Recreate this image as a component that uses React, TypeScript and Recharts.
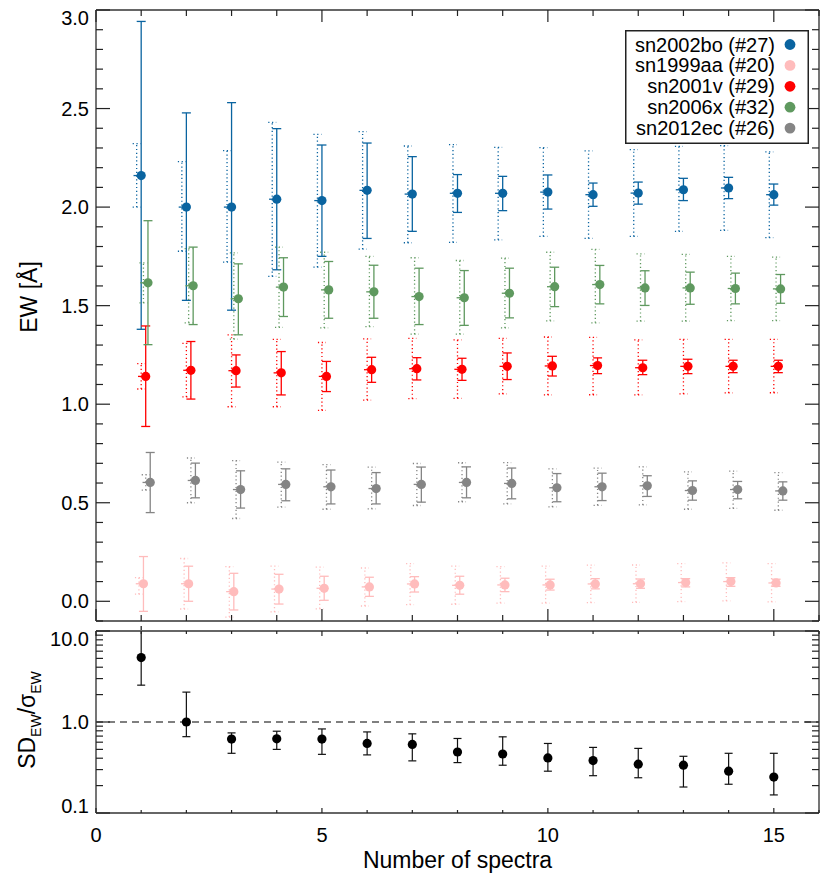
import { ScatterChart, Scatter, XAxis, YAxis, ErrorBar, ReferenceLine, Legend, Label } from 'recharts'

// number of spectra used (x categories)
const spectra = [1, 2, 3, 4, 5, 6, 7, 8, 9, 10, 11, 12, 13, 14, 15]

const snNames = ['sn2002bo (#27)', 'sn1999aa (#20)', 'sn2001v (#29)', 'sn2006x (#32)', 'sn2012ec (#26)']

// sn2002bo
const boEw = [2.16, 2.0, 2.0, 2.04, 2.033, 2.085, 2.066, 2.07, 2.07, 2.076, 2.063, 2.071, 2.088, 2.097, 2.063]
const boLo = [1.38, 1.527, 1.477, 1.682, 1.75, 1.841, 1.877, 1.973, 1.982, 1.99, 2.004, 2.015, 2.033, 2.043, 2.01]
const boHi = [2.942, 2.478, 2.53, 2.398, 2.315, 2.325, 2.256, 2.165, 2.156, 2.163, 2.122, 2.127, 2.146, 2.151, 2.117]
const boSdLo = [2.0, 1.776, 1.721, 1.648, 1.695, 1.787, 1.819, 1.821, 1.834, 1.851, 1.841, 1.851, 1.877, 1.882, 1.845]
const boSdHi = [2.322, 2.231, 2.287, 2.43, 2.369, 2.383, 2.31, 2.317, 2.303, 2.302, 2.285, 2.292, 2.308, 2.312, 2.28]

// sn1999aa
const aaEw = [0.089, 0.089, 0.049, 0.062, 0.066, 0.073, 0.088, 0.081, 0.083, 0.083, 0.088, 0.089, 0.095, 0.1, 0.093]
const aaLo = [-0.051, 0.0, -0.044, -0.014, 0.005, 0.025, 0.047, 0.036, 0.049, 0.057, 0.063, 0.066, 0.073, 0.076, 0.076]
const aaHi = [0.227, 0.178, 0.142, 0.137, 0.127, 0.122, 0.125, 0.127, 0.117, 0.112, 0.115, 0.113, 0.115, 0.12, 0.112]
const aaSdLo = [0.036, -0.039, -0.08, -0.054, -0.038, -0.024, -0.017, -0.015, -0.009, -0.009, -0.007, -0.005, -0.002, 0.002, -0.003]
const aaSdHi = [0.12, 0.217, 0.176, 0.178, 0.173, 0.169, 0.191, 0.178, 0.176, 0.178, 0.183, 0.184, 0.191, 0.195, 0.191]

// sn2001v
const vEw = [1.141, 1.172, 1.17, 1.159, 1.141, 1.175, 1.18, 1.177, 1.192, 1.194, 1.196, 1.185, 1.192, 1.192, 1.192]
const vLo = [0.887, 1.026, 1.087, 1.047, 1.064, 1.111, 1.123, 1.121, 1.125, 1.143, 1.155, 1.15, 1.155, 1.16, 1.16]
const vHi = [1.397, 1.318, 1.25, 1.267, 1.217, 1.238, 1.236, 1.233, 1.26, 1.243, 1.235, 1.223, 1.228, 1.223, 1.223]
const vSdLo = [1.077, 1.037, 0.987, 0.987, 0.969, 1.021, 1.028, 1.03, 1.052, 1.047, 1.048, 1.047, 1.052, 1.057, 1.058]
const vSdHi = [1.206, 1.309, 1.352, 1.329, 1.313, 1.331, 1.334, 1.326, 1.334, 1.341, 1.339, 1.326, 1.329, 1.329, 1.329]

// sn2006x
const xEw = [1.616, 1.601, 1.535, 1.594, 1.58, 1.57, 1.546, 1.54, 1.563, 1.596, 1.607, 1.59, 1.59, 1.587, 1.585]
const xLo = [1.302, 1.404, 1.352, 1.445, 1.436, 1.436, 1.404, 1.4, 1.438, 1.495, 1.509, 1.501, 1.507, 1.509, 1.512]
const xHi = [1.931, 1.797, 1.712, 1.743, 1.724, 1.705, 1.69, 1.678, 1.69, 1.695, 1.704, 1.677, 1.67, 1.665, 1.658]
const xSdLo = [1.514, 1.413, 1.33, 1.39, 1.387, 1.394, 1.355, 1.355, 1.387, 1.423, 1.413, 1.421, 1.421, 1.424, 1.424]
const xSdHi = [1.717, 1.789, 1.768, 1.797, 1.771, 1.75, 1.743, 1.729, 1.741, 1.771, 1.785, 1.763, 1.76, 1.75, 1.746]

// sn2012ec
const ecEw = [0.603, 0.613, 0.567, 0.593, 0.581, 0.572, 0.593, 0.603, 0.598, 0.576, 0.581, 0.586, 0.562, 0.567, 0.56]
const ecLo = [0.45, 0.525, 0.473, 0.51, 0.494, 0.494, 0.503, 0.525, 0.52, 0.505, 0.511, 0.532, 0.513, 0.52, 0.513]
const ecHi = [0.755, 0.701, 0.662, 0.672, 0.666, 0.653, 0.681, 0.682, 0.676, 0.648, 0.65, 0.637, 0.611, 0.608, 0.606]
const ecSdLo = [0.564, 0.5, 0.42, 0.478, 0.467, 0.469, 0.486, 0.505, 0.494, 0.479, 0.487, 0.489, 0.467, 0.471, 0.462]
const ecSdHi = [0.642, 0.727, 0.714, 0.706, 0.693, 0.681, 0.699, 0.703, 0.704, 0.672, 0.676, 0.682, 0.657, 0.66, 0.653]

// lower panel: SD_EW / sigma_EW
const ratio = [5.1, 1.0, 0.649, 0.653, 0.649, 0.581, 0.567, 0.468, 0.445, 0.403, 0.377, 0.344, 0.335, 0.288, 0.248]
const ratioLo = [2.54, 0.69, 0.453, 0.5, 0.441, 0.435, 0.374, 0.358, 0.335, 0.288, 0.257, 0.244, 0.193, 0.207, 0.158]
const ratioHi = [12, 2.13, 0.759, 0.792, 0.839, 0.778, 0.741, 0.659, 0.687, 0.581, 0.526, 0.513, 0.42, 0.453, 0.453]

// axis ticks
const xMajor = [0, 5, 10, 15]
const xMinor = [0, 1, 2, 3, 4, 5, 6, 7, 8, 9, 10, 11, 12, 13, 14, 15, 16]
const ewMajor = [0, 0.5, 1.0, 1.5, 2.0, 2.5, 3.0]
const ewMinor = Array.from({ length: 32 }, (_, i) => (i - 1) / 10)
const ratioMajor = [0.1, 1, 10]
const ratioMinor = [0.1, 0.2, 0.3, 0.4, 0.5, 0.6, 0.7, 0.8, 0.9, 1, 2, 3, 4, 5, 6, 7, 8, 9, 10]

const FONT = '"Liberation Sans", Arial, Helvetica, sans-serif'
const FRAME = '#666'
const TICK = '#222'

const styles = [
  { color: '#0a64a0', off: 0 },
  { color: '#ffbcbc', off: 0.05 },
  { color: '#ff0000', off: 0.1 },
  { color: '#5f995f', off: 0.15 },
  { color: '#858585', off: 0.2 },
]

const seriesData = [
  [boEw, boLo, boHi, boSdLo, boSdHi],
  [aaEw, aaLo, aaHi, aaSdLo, aaSdHi],
  [vEw, vLo, vHi, vSdLo, vSdHi],
  [xEw, xLo, xHi, xSdLo, xSdHi],
  [ecEw, ecLo, ecHi, ecSdLo, ecSdHi],
]

const points = (ew: number[], lo: number[], hi: number[], off: number) =>
  spectra.map((n, i) => ({ x: n + off, y: ew[i], ey: [ew[i] - lo[i], hi[i] - ew[i]], ex: [0.17, 0] }))

const ratioPoints = spectra.map((n, i) => ({
  x: n,
  y: ratio[i],
  ey: [ratio[i] - ratioLo[i], ratioHi[i] - ratio[i]],
}))

type Side = 'left' | 'right' | 'top' | 'bottom'

const makeTick = (side: Side, major: number[], majorLen: number, minorLen: number, labelled = false, clamp?: [number, number]) =>
  (props: any) => {
    const { x, y, payload } = props
    const v = payload.value
    const isMajor = major.some(m => Math.abs(m - v) < 1e-6)
    const len = isMajor ? majorLen : minorLen
    let x2 = x
    let y2 = y
    if (side === 'left') x2 = x + len
    if (side === 'right') x2 = x - len
    if (side === 'top') y2 = y + len
    if (side === 'bottom') y2 = y - len
    let label = null
    if (labelled && isMajor) {
      if (side === 'left') {
        const ty = clamp ? Math.min(Math.max(y, clamp[0]), clamp[1]) : y
        label = (
          <text x={x - 7} y={ty} textAnchor="end" dominantBaseline="central" fontSize={20} fontFamily={FONT} fill="#000">
            {v.toFixed(1)}
          </text>
        )
      } else if (side === 'bottom') {
        label = (
          <text x={x} y={y + 29} textAnchor="middle" fontSize={20} fontFamily={FONT} fill="#000">
            {v}
          </text>
        )
      }
    }
    return (
      <g>
        <line x1={x} y1={y} x2={x2} y2={y2} stroke={TICK} strokeWidth={1.2} />
        {label}
      </g>
    )
  }

const noDot = () => <g />

const ewDot = (color: string) => (p: any) => <circle cx={p.cx} cy={p.cy} r={4.6} fill={color} />

const ewLabel = () => (
  <text transform="rotate(-90, 37, 297)" x={37} y={297} textAnchor="middle" fontSize={23} fontFamily={FONT} fill="#000">
    EW [Å]
  </text>
)

const ratioLabel = () => (
  <text transform="rotate(-90, 35, 94)" x={35} y={94} textAnchor="middle" fontSize={23} fontFamily={FONT} fill="#000">
    SD<tspan fontSize={14} dy={6}>EW</tspan>
    <tspan dy={-6}>/σ</tspan>
    <tspan fontSize={14} dy={6}>EW</tspan>
  </text>
)

const xLabel = () => (
  <text x={457.5} y={242} textAnchor="middle" fontSize={23} fontFamily={FONT} fill="#000">
    Number of spectra
  </text>
)

function LegendBox() {
  return (
    <svg width={184} height={114} style={{ display: 'block' }}>
      <rect x={0.75} y={0.75} width={182.5} height={112.5} fill="#fff" stroke="#222" strokeWidth={1.5} />
      {snNames.map((name, i) => (
        <g key={name}>
          <text x={150} y={14.5 + i * 20.9} textAnchor="end" dominantBaseline="central" fontSize={20} fontFamily={FONT} fill="#000">
            {name}
          </text>
          <circle cx={165} cy={14.5 + i * 20.9} r={5.4} fill={styles[i].color} />
        </g>
      ))}
    </svg>
  )
}

const axisLine = { stroke: FRAME, strokeWidth: 1.8 }

export default function App() {
  return (
    <div style={{ position: 'absolute', left: 0, top: 0, width: 830, height: 882, background: '#fff' }}>
      <div style={{ position: 'absolute', left: 0, top: 0 }}>
        <ScatterChart width={830} height={626} margin={{ top: 5, right: 6, bottom: 0, left: 36 }}>
          <XAxis xAxisId="b" type="number" dataKey="x" domain={[0, 16]} allowDataOverflow ticks={xMinor} interval={0}
            height={5} tickSize={0} tickMargin={0} tickLine={false} axisLine={axisLine}
            tick={makeTick('bottom', xMajor, 12, 6)} />
          <XAxis xAxisId="t" orientation="top" type="number" dataKey="x" domain={[0, 16]} allowDataOverflow ticks={xMinor} interval={0}
            height={5} tickSize={0} tickMargin={0} tickLine={false} axisLine={axisLine}
            tick={makeTick('top', xMajor, 12, 6)} />
          <YAxis yAxisId="l" type="number" dataKey="y" domain={[-0.1, 3.0]} allowDataOverflow ticks={ewMinor} interval={0}
            width={60} tickSize={0} tickMargin={0} tickLine={false} axisLine={axisLine}
            tick={makeTick('left', ewMajor, 14, 7, true, [17.5, 613])}
            label={<Label content={ewLabel} />} />
          <YAxis yAxisId="r" orientation="right" type="number" dataKey="y" domain={[-0.1, 3.0]} allowDataOverflow ticks={ewMinor} interval={0}
            width={5} tickSize={0} tickMargin={0} tickLine={false} axisLine={axisLine}
            tick={makeTick('right', ewMajor, 14, 7)} />
          {seriesData.map((s, k) => {
            const [ew, lo, hi, sdLo, sdHi] = s
            const { color, off } = styles[k]
            return [
              <Scatter key={`sd${k}`} xAxisId="b" yAxisId="l" data={points(ew, sdLo, sdHi, off - 0.1)} shape={noDot}
                legendType="none" isAnimationActive={false}>
                <ErrorBar dataKey="ey" direction="y" width={4} stroke={color} strokeWidth={1.3} strokeDasharray="1.2 2.6" isAnimationActive={false} />
              </Scatter>,
              <Scatter key={`ew${k}`} name={snNames[k]} xAxisId="b" yAxisId="l" data={points(ew, lo, hi, off)}
                fill={color} shape={ewDot(color)} isAnimationActive={false}>
                <ErrorBar dataKey="ex" direction="x" width={0} stroke={color} strokeWidth={1.3} isAnimationActive={false} />
                <ErrorBar dataKey="ey" direction="y" width={4.5} stroke={color} strokeWidth={1.3} isAnimationActive={false} />
              </Scatter>,
            ]
          })}
          <Legend layout="horizontal" verticalAlign="middle" align="center"
            wrapperStyle={{ left: 625, top: 30, width: 184, height: 114 }}
            content={() => <LegendBox />} />
        </ScatterChart>
      </div>
      <div style={{ position: 'absolute', left: 0, top: 626 }}>
        <ScatterChart width={830} height={256} margin={{ top: 0, right: 6, bottom: 0, left: 36 }}>
          <XAxis xAxisId="b" type="number" dataKey="x" domain={[0, 16]} allowDataOverflow ticks={xMinor} interval={0}
            height={69} tickSize={0} tickMargin={0} tickLine={false} axisLine={axisLine}
            tick={makeTick('bottom', xMajor, 5, 3, true)}
            label={<Label content={xLabel} />} />
          <XAxis xAxisId="t" orientation="top" type="number" dataKey="x" domain={[0, 16]} allowDataOverflow ticks={xMinor} interval={0}
            height={5} tickSize={0} tickMargin={0} tickLine={false} axisLine={axisLine}
            tick={makeTick('top', xMajor, 5, 3)} />
          <YAxis yAxisId="l" type="number" dataKey="y" scale="log" domain={[0.1, 10]} allowDataOverflow ticks={ratioMinor} interval={0}
            width={60} tickSize={0} tickMargin={0} tickLine={false} axisLine={axisLine}
            tick={makeTick('left', ratioMajor, 14, 7, true, [12.5, 179.5])}
            label={<Label content={ratioLabel} />} />
          <YAxis yAxisId="r" orientation="right" type="number" dataKey="y" scale="log" domain={[0.1, 10]} allowDataOverflow ticks={ratioMinor} interval={0}
            width={5} tickSize={0} tickMargin={0} tickLine={false} axisLine={axisLine}
            tick={makeTick('right', ratioMajor, 14, 7)} />
          <ReferenceLine xAxisId="b" yAxisId="l" y={1} stroke="#555" strokeWidth={1.4} strokeDasharray="7 5" />
          <Scatter xAxisId="b" yAxisId="l" data={ratioPoints} fill="#000" shape={ewDot('#000')} isAnimationActive={false}>
            <ErrorBar dataKey="ey" direction="y" width={4} stroke="#111" strokeWidth={1.2} isAnimationActive={false} />
          </Scatter>
        </ScatterChart>
      </div>
    </div>
  )
}
